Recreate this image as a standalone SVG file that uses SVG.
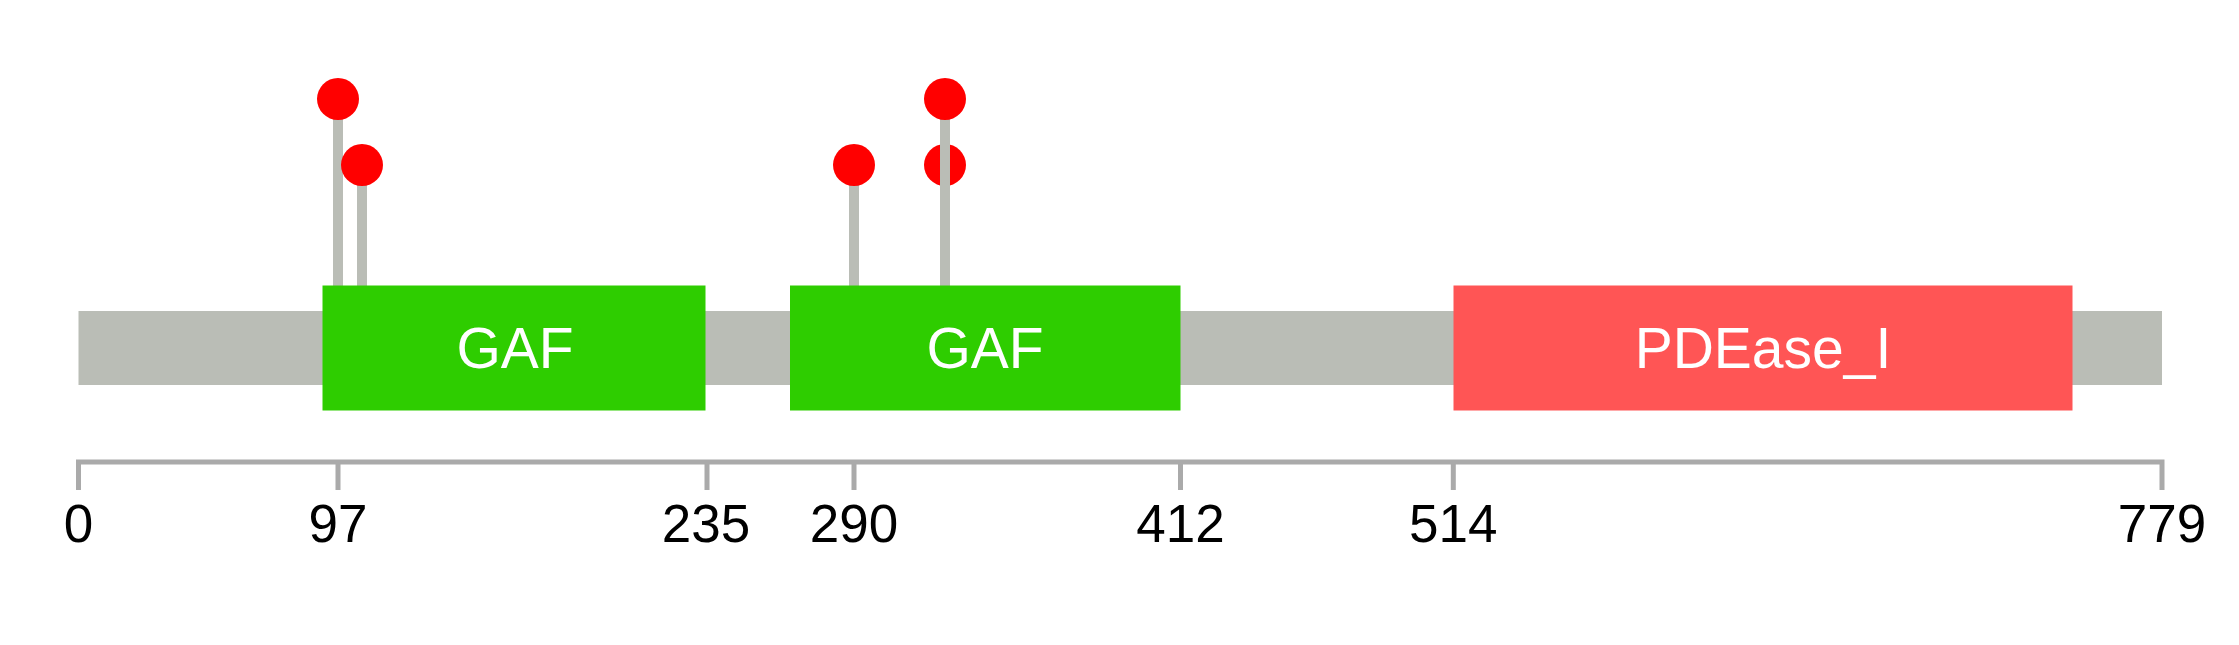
<svg xmlns="http://www.w3.org/2000/svg" width="2239" height="645" viewBox="0 0 2239 645">
<style>
.bb{fill:#babdb6}
.gaf{fill:#2ecd00}
.pde{fill:#ff5555}
.dl{font-family:"Liberation Sans",Arial,sans-serif;font-size:57px;fill:#ffffff;text-anchor:middle}
.tl{font-family:"Liberation Sans",Arial,sans-serif;font-size:53px;fill:#000000;text-anchor:middle}
.ax{stroke:#aaaaaa;stroke-width:5;fill:none}
.stem{stroke:#babdb6;stroke-width:10}
.dot{fill:#ff0000}
</style>
<rect width="2239" height="645" fill="#ffffff"/>
<g id="backbone"><rect class="bb" x="78.5" y="311" width="2083.5" height="74"/></g>
<g id="connectors">
<line class="stem" x1="338" y1="99" x2="338" y2="286"/>
<line class="stem" x1="362" y1="165" x2="362" y2="286"/>
<line class="stem" x1="854" y1="165" x2="854" y2="286"/>
</g>
<g id="mut-97"><circle class="dot" cx="338" cy="99" r="21"/></g>
<g id="mut-106"><circle class="dot" cx="362" cy="165" r="21"/></g>
<g id="mut-290"><circle class="dot" cx="854" cy="165" r="21"/></g>
<g id="mut-324a"><circle class="dot" cx="945" cy="165" r="21"/></g>
<g id="mut-324b"><line class="stem" x1="945" y1="99" x2="945" y2="286"/><circle class="dot" cx="945" cy="99" r="21"/></g>
<g id="gaf1"><rect class="gaf" x="322.5" y="285.5" width="383" height="125"/><text class="dl" x="515" y="368">GAF</text></g>
<g id="gaf2"><rect class="gaf" x="790" y="285.5" width="390.5" height="125"/><text class="dl" x="985" y="368">GAF</text></g>
<g id="pdease"><rect class="pde" x="1453.5" y="285.5" width="619" height="125"/><text class="dl" x="1763" y="368">PDEase_I</text></g>
<g id="axis">
<path class="ax" d="M78.5,490 V462 H2162 V490 M338,462 V490 M707,462 V490 M854,462 V490 M1180.5,462 V490 M1453.3,462 V490"/>
<text class="tl" x="78.5" y="542">0</text>
<text class="tl" x="338" y="542">97</text>
<text class="tl" x="706" y="542">235</text>
<text class="tl" x="854" y="542">290</text>
<text class="tl" x="1180.5" y="542">412</text>
<text class="tl" x="1453.3" y="542">514</text>
<text class="tl" x="2162" y="542">779</text>
</g>
</svg>
